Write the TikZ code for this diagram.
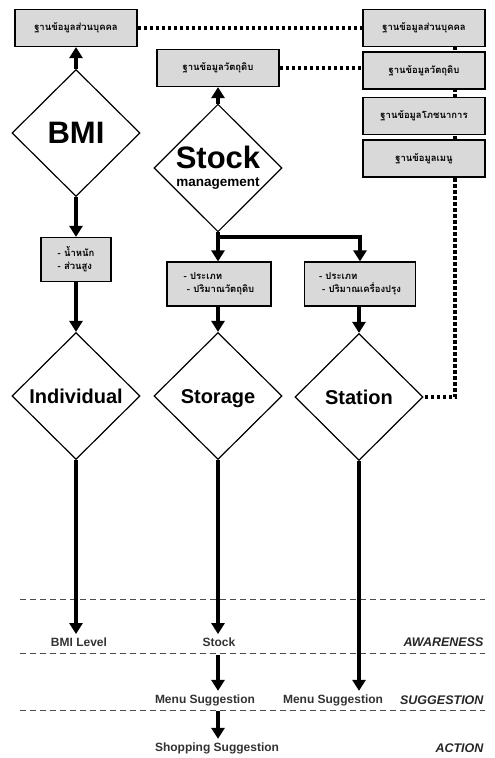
\documentclass[tikz,border=0pt]{standalone}
\usepackage{fontspec}
\setmainfont{Liberation Sans}
\newfontfamily\thaifont[Script=Thai]{Loma}
\usetikzlibrary{shapes.geometric,arrows.meta}
\usetikzlibrary{backgrounds}
\tikzset{
  centered/.style = { align=center, anchor=center },
    dbbox/.style = { draw, line width=1.2pt, fill=gray!30, centered, minimum width=122pt, minimum height=37pt,
                     font=\thaifont\bfseries\fontsize{9.5}{11}\selectfont },
  infobox/.style = { draw, line width=1.2pt, fill=gray!30, align=left, minimum height=44pt, inner sep=3pt,
                     font=\thaifont\bfseries\fontsize{9.5}{13}\selectfont },
   choice/.style = { draw, diamond, line width=1.2pt, inner sep=0pt, minimum width=128pt, minimum height=127pt,
                     centered, font=\bfseries\fontsize{20}{22}\selectfont },
  oneword/.style = { text height=14pt, text depth=0pt },
    level/.style = { font=\bfseries\fontsize{12}{14}\selectfont, text=black!80 },
    phase/.style = { font=\bfseries\itshape\fontsize{12.5}{14}\selectfont, anchor=east, text=black!85 },
    arrow/.style = { line width=3.5pt, -{Triangle[width=13pt,length=11pt]} },
   dblink/.style = { line width=3.5pt, dash pattern=on 3.5pt off 2.5pt },
  divider/.style = { line width=1pt, dash pattern=on 6pt off 4pt, color=black!70 }
}

\begin{document}
\begin{tikzpicture}[x=1pt,y=-1pt]
  \useasboundingbox (0,0) rectangle (495,758);

  \node [dbbox] (person)   at (76,28)  {ฐานข้อมูลส่วนบุคคล};
  \node [dbbox] (material) at (218,68) {ฐานข้อมูลวัตถุดิบ};

  \node [dbbox] (dbperson)    at (424,28)    {ฐานข้อมูลส่วนบุคคล};
  \node [dbbox] (dbmaterial)  at (424,70.5)  {ฐานข้อมูลวัตถุดิบ};
  \node [dbbox] (dbnutrition) at (424,116)   {ฐานข้อมูลโภชนาการ};
  \node [dbbox] (dbmenu)      at (424,158.5) {ฐานข้อมูลเมนู};

  \node [choice, font=\bfseries\fontsize{31}{31}\selectfont] (bmi) at (76,133) {BMI};
  \node [choice] (stock) at (218,168)
    {{\fontsize{31}{26}\selectfont Stock}\\[-4pt]{\fontsize{13.5}{12}\selectfont management}};

  \node [infobox, minimum width=70pt]  (body)     at (76,259.5) {- น้ำหนัก\\- ส่วนสูง};
  \node [infobox, minimum width=104pt] (itemtype) at (219,284)  {- ประเภท\\\ - ปริมาณวัตถุดิบ};
  \node [infobox, minimum width=111pt] (spicetype) at (360,284) {- ประเภท\\\ - ปริมาณเครื่องปรุง};

  \node [choice, oneword] (individual) at (76,396)  {Individual};
  \node [choice, oneword] (storage)    at (218,396) {Storage};
  \node [choice, oneword] (station)    at (359,397) {Station};

  \node [level] (bmilevel)  at (79,642)  {BMI Level};
  \node [level] (stocklvl)  at (219,642) {Stock};
  \node [level] (menuone)   at (205,700) {Menu Suggestion};
  \node [level] (menutwo)   at (333,700) {Menu Suggestion};
  \node [level] (shopping)  at (217,748) {Shopping Suggestion};

  \node [phase] (awareness)  at (487,642) {AWARENESS};
  \node [phase] (suggestion) at (487,700) {SUGGESTION};
  \node [phase] (action)     at (487,748) {ACTION};

  \coordinate (fork) at (218,237);

  \begin{scope}[on background layer]
    \draw [dblink] (person.east) -- (dbperson.west);
    \draw [dblink] (material.east) -- (material.east -| dbmaterial.west);
    \draw [dblink] (455,40) |- (station.east);
  \end{scope}

  \draw [divider] (20,599) -- (485,599);
  \draw [divider] (20,653) -- (485,653);
  \draw [divider] (20,710) -- (485,710);

  \draw [arrow] (bmi) -- (person);
  \draw [arrow] (stock) -- (material);
  \draw [arrow] (bmi) -- (body);
  \draw [arrow] (body) -- (individual);
  \draw [arrow] (stock.south) -- (fork) -- (fork |- itemtype.north);
  \draw [arrow] (fork) -| (spicetype.north);
  \draw [arrow] (fork |- itemtype.south) -- (storage);
  \draw [arrow] (spicetype.south -| station) -- (station);

  \draw [arrow] (individual.south) -- (individual.south |- bmilevel.north);
  \draw [arrow] (storage.south) -- (storage.south |- stocklvl.north);
  \draw [arrow] (station.south) -- (station.south |- menutwo.north);
  \draw [arrow, shorten <=5pt] (storage |- stocklvl.south) -- (storage |- menuone.north);
  \draw [arrow, shorten <=2pt] (storage |- menuone.south) -- (storage |- shopping.north);
\end{tikzpicture}
\end{document}
